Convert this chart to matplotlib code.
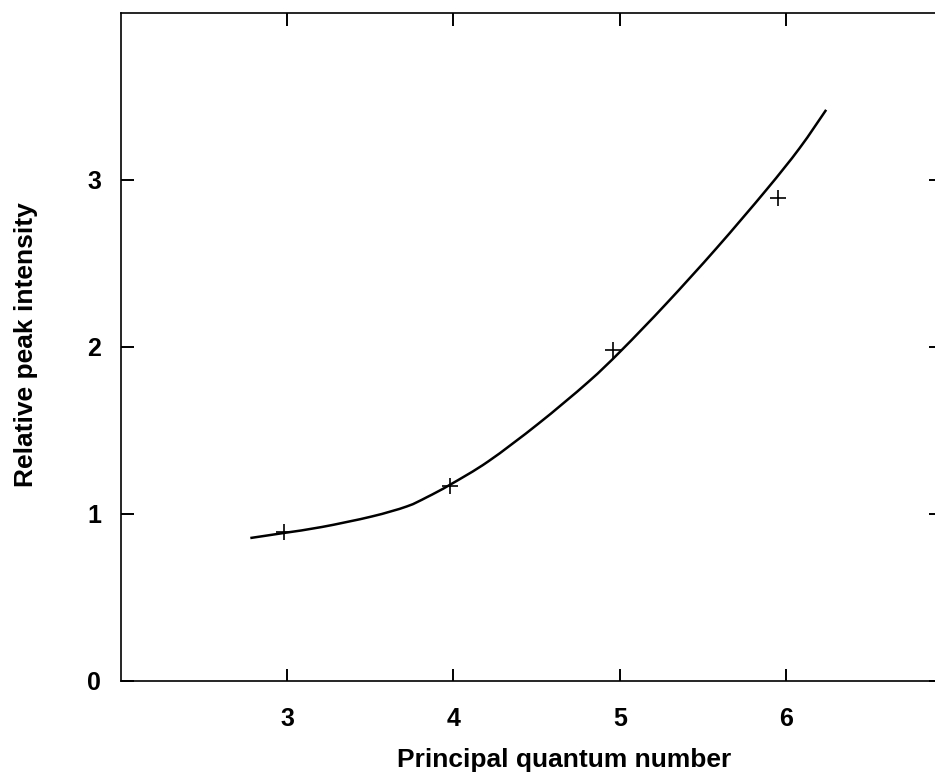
import matplotlib
matplotlib.use("Agg")
import matplotlib.pyplot as plt
from matplotlib.path import Path
from matplotlib.patches import PathPatch
import numpy as np

# measured peak intensities
n_meas = [2.98, 3.98, 4.96, 5.95]
i_meas = [0.89, 1.17, 1.98, 2.89]

# calculated curve
n_calc = [2.78, 2.98, 3.21, 3.51, 3.72, 3.84, 3.98, 4.21, 4.51, 4.81,
          5.01, 5.28, 5.58, 5.88, 6.08, 6.24]
i_calc = [0.856, 0.886, 0.922, 0.985, 1.045, 1.100, 1.175, 1.315, 1.540, 1.790,
          1.980, 2.260, 2.590, 2.940, 3.190, 3.420]

xticks = [3, 4, 5, 6]
yticks = [0, 1, 2, 3]


def smooth_path(xs, ys):
    # catmull-rom through the points, as cubic bezier segments
    p = np.column_stack([xs, ys])
    ext = np.vstack([p[0], p, p[-1]])
    verts = [p[0]]
    codes = [Path.MOVETO]
    for k in range(1, len(ext) - 2):
        c1 = ext[k] + (ext[k + 1] - ext[k - 1]) / 6
        c2 = ext[k + 1] - (ext[k + 2] - ext[k]) / 6
        verts += [c1, c2, ext[k + 1]]
        codes += [Path.CURVE4] * 3
    return Path(verts, codes)


plt.rcParams["font.family"] = "Liberation Sans"
plt.rcParams["font.weight"] = "bold"

fig = plt.figure(figsize=(9.35, 7.77), dpi=100)
ax = fig.add_axes([0.1289, 0.1236, 0.8775, 0.8597])

ax.add_patch(PathPatch(smooth_path(n_calc, i_calc), facecolor="none",
                       edgecolor="black", linewidth=1.8))
ax.plot(n_meas, i_meas, linestyle="none", marker="+", markersize=12,
        markeredgewidth=1.2, color="black")

ax.set_xlim(2, 6.93)
ax.set_ylim(0, 4)
ax.set_xticks(xticks)
ax.set_yticks(yticks)
ax.tick_params(direction="in", length=9, width=1.4, top=True, right=True,
               labelsize=18)
ax.tick_params(axis="x", pad=19)
ax.tick_params(axis="y", pad=14)
for s in ax.spines.values():
    s.set_linewidth(1.2)

ax.set_xlabel("Principal quantum number", fontsize=19, fontweight="bold")
ax.set_ylabel("Relative peak intensity", fontsize=19, fontweight="bold")
ax.xaxis.set_label_coords(0.5405, -0.100)
ax.yaxis.set_label_coords(-0.1005, 0.503)

fig.savefig("out.png", dpi=100)
